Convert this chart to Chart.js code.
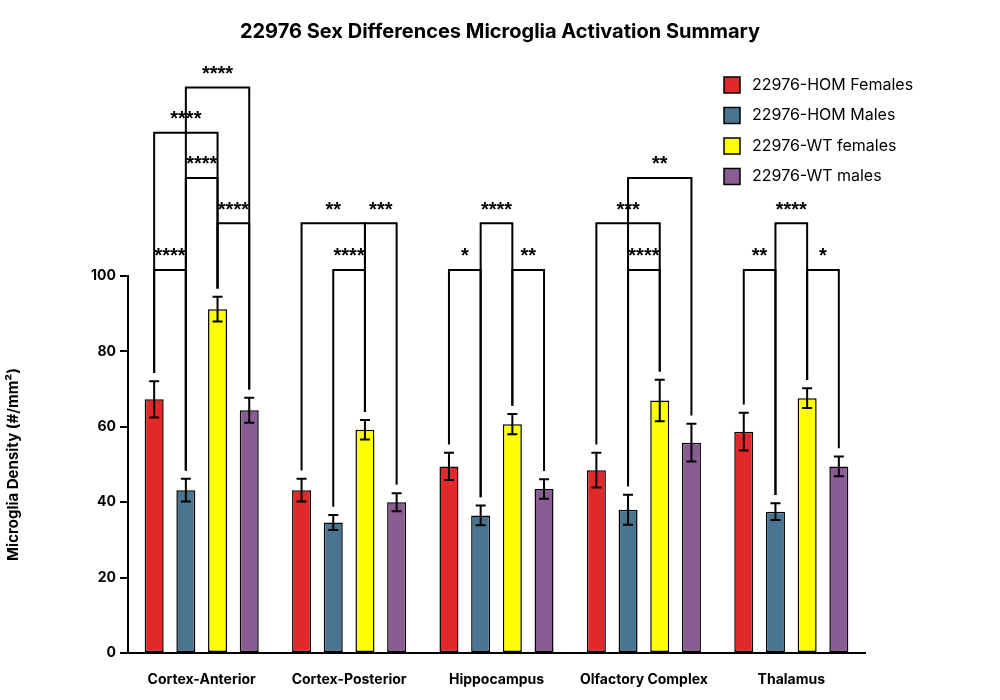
<!DOCTYPE html>
<html>
<head>
<meta charset="utf-8">
<script src="https://cdn.jsdelivr.net/npm/chart.js@4"></script>
<style>
  html, body { margin: 0; padding: 0; background: #fff; }
  #wrap { width: 1000px; height: 700px; }
</style>
</head>
<body>
<div id="wrap"><canvas id="chart" width="1000" height="700"></canvas></div>
<script>
const regions = ["Cortex-Anterior", "Cortex-Posterior", "Hippocampus", "Olfactory Complex", "Thalamus"];
const seriesNames = ["22976-HOM Females", "22976-HOM Males", "22976-WT females", "22976-WT males"];
const seriesColors = ["#e3282a", "#4a7592", "#ffff00", "#8b5c93"];

const homFemales = [67.3, 43.2, 49.5, 48.5, 58.7];
const homMales = [43.2, 34.6, 36.5, 38.0, 37.5];
const wtFemales = [91.2, 59.2, 60.7, 67.0, 67.6];
const wtMales = [64.4, 40.0, 43.5, 55.8, 49.5];

const homFemalesErr = [4.8, 3.0, 3.6, 4.6, 5.0];
const homMalesErr = [3.0, 2.0, 2.6, 4.0, 2.2];
const wtFemalesErr = [3.3, 2.6, 2.7, 5.5, 2.6];
const wtMalesErr = [3.3, 2.4, 2.6, 5.0, 2.6];

const yTicks = [0, 20, 40, 60, 80, 100];

// [region, bar a, bar b, bracket level, label]
const brackets = [
  [0, 0, 1, 101.6, "****"], [0, 2, 3, 114, "****"], [0, 1, 2, 126, "****"],
  [0, 0, 2, 138, "****"], [0, 1, 3, 150, "****"],
  [1, 1, 2, 101.6, "****"], [1, 0, 2, 114, "**"], [1, 2, 3, 114, "***"],
  [2, 0, 1, 101.6, "*"], [2, 2, 3, 101.6, "**"], [2, 1, 2, 114, "****"],
  [3, 1, 2, 101.6, "****"], [3, 0, 2, 114, "***"], [3, 1, 3, 126, "**"],
  [4, 0, 1, 101.6, "**"], [4, 2, 3, 101.6, "*"], [4, 1, 2, 114, "****"]
];

const values = [homFemales, homMales, wtFemales, wtMales];
const errors = [homFemalesErr, homMalesErr, wtFemalesErr, wtMalesErr];

const extras = {
  id: "extras",
  afterDatasetsDraw(chart) {
    const c = chart.ctx;
    const y = chart.scales.y;
    c.save();
    c.strokeStyle = "#000";
    c.lineWidth = 2;
    // error bars
    values.forEach((arr, d) => {
      const meta = chart.getDatasetMeta(d);
      arr.forEach((v, i) => {
        const x = meta.data[i].x;
        const t = y.getPixelForValue(v + errors[d][i]);
        const b = y.getPixelForValue(v - errors[d][i]);
        c.beginPath();
        c.moveTo(x, t); c.lineTo(x, b);
        c.moveTo(x - 5, t); c.lineTo(x + 5, t);
        c.moveTo(x - 5, b); c.lineTo(x + 5, b);
        c.stroke();
      });
    });
    // significance brackets
    c.font = "bold 20px 'Liberation Sans', Arial, sans-serif";
    c.textAlign = "center";
    c.textBaseline = "middle";
    c.fillStyle = "#000";
    brackets.forEach(([g, a, b, lvl, lab]) => {
      const xa = chart.getDatasetMeta(a).data[g].x;
      const xb = chart.getDatasetMeta(b).data[g].x;
      const ly = y.getPixelForValue(lvl);
      const ya = y.getPixelForValue(values[a][g] + errors[a][g] + 2.2);
      const yb = y.getPixelForValue(values[b][g] + errors[b][g] + 2.2);
      c.beginPath();
      c.moveTo(xa, ya); c.lineTo(xa, ly); c.lineTo(xb, ly); c.lineTo(xb, yb);
      c.stroke();
      c.fillText(lab, (xa + xb) / 2, ly - 13);
    });
    // title
    c.font = "bold 20px Inter, sans-serif";
    c.fillText("22976 Sex Differences Microglia Activation Summary", 500, 32);
    // legend
    c.font = "16px Inter, sans-serif";
    c.textAlign = "left";
    seriesNames.forEach((n, i) => {
      const ly = 85 + i * 30.5;
      c.fillStyle = seriesColors[i];
      c.fillRect(724, ly - 8, 16, 16);
      c.lineWidth = 1.5;
      c.strokeRect(724, ly - 8, 16, 16);
      c.fillStyle = "#000";
      c.fillText(n, 752, ly);
    });
    c.restore();
  }
};

new Chart(document.getElementById("chart"), {
  type: "bar",
  data: {
    labels: regions,
    datasets: seriesNames.map((n, i) => ({
      label: n,
      data: values[i],
      backgroundColor: seriesColors[i],
      borderColor: "#000",
      borderWidth: 1.5,
      borderSkipped: false,
      categoryPercentage: 0.86,
      barPercentage: 0.6
    }))
  },
  options: {
    responsive: false,
    animation: false,
    layout: { padding: { top: 276, right: 135, left: 0, bottom: 0 } },
    plugins: { legend: { display: false }, title: { display: false }, tooltip: { enabled: false } },
    scales: {
      x: {
        afterFit: (s) => { s.height = 47; },
        grid: { display: false },
        border: { color: "#000", width: 2 },
        ticks: { color: "#000", font: { weight: "bold", size: 14, family: "Inter" }, padding: 10 }
      },
      y: {
        min: 0, max: 100,
        afterFit: (s) => { s.width = 128; },
        afterBuildTicks: (s) => { s.ticks = yTicks.map(v => ({ value: v })); },
        grid: { drawOnChartArea: false, drawTicks: true, tickLength: 8, color: "#000", lineWidth: 2 },
        border: { color: "#000", width: 2 },
        ticks: { color: "#000", font: { weight: "bold", size: 14, family: "Inter" }, padding: 4 },
        title: {
          display: true,
          text: "Microglia Density (#/mm²)",
          color: "#000",
          font: { weight: "bold", size: 15, family: "Inter" }
        }
      }
    }
  },
  plugins: [extras]
});
</script>
</body>
</html>
